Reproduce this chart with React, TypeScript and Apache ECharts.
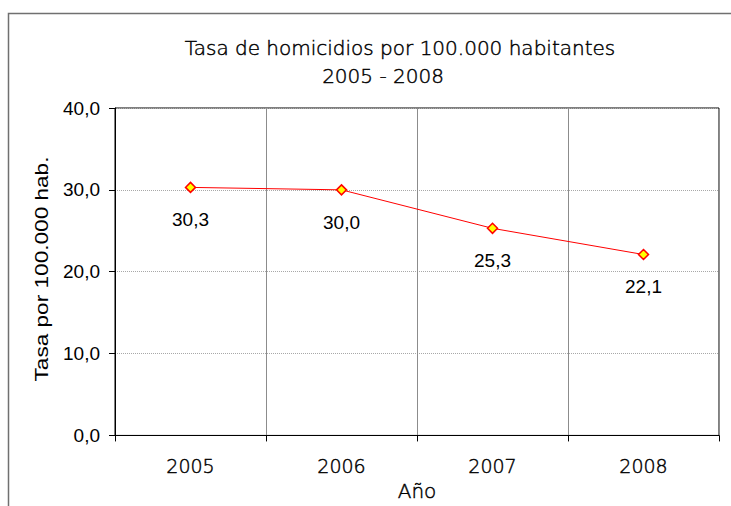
import React, { useEffect, useRef } from "react";
import * as echarts from "echarts";

const years = ["2005", "2006", "2007", "2008"];
const rates = [30.3, 30.0, 25.3, 22.1];
const titleLine1 = "Tasa de homicidios por 100.000 habitantes";
const titleLine2 = "2005 - 2008";
const yAxisName = "Tasa por 100.000 hab.";
const xAxisName = "Año";

const fmt = (v: number) => v.toFixed(1).replace(".", ",");

export default function App() {
  const ref = useRef<HTMLDivElement>(null);
  useEffect(() => {
    if (!ref.current) return;
    const chart = echarts.init(ref.current, undefined, { renderer: "svg" });
    const font = "'Liberation Sans', Arial, sans-serif";
    const thin = "'DejaVu Sans', sans-serif";
    const thinStyle = {
      fontFamily: thin,
      fontWeight: 200,
      color: "#000",
      textBorderColor: "#000",
      textBorderWidth: 0.45,
    };
    chart.setOption({
      animation: false,
      backgroundColor: "#ffffff",
      title: [
        {
          text: titleLine1,
          left: 395,
          top: 33,
          textAlign: "center",
          textStyle: { ...thinStyle, fontSize: 20 },
        },
        {
          text: titleLine2,
          left: 378,
          top: 61,
          textAlign: "center",
          textStyle: { ...thinStyle, fontSize: 20 },
        },
      ],
      graphic: [
        {
          type: "rect",
          shape: { x: 8.5, y: 13.5, width: 800, height: 600 },
          style: { fill: "none", stroke: "#707070", lineWidth: 1.5 },
          silent: true,
        },
        {
          type: "text",
          x: 41,
          y: 269,
          rotation: Math.PI / 2,
          scaleX: 1.19,
          silent: true,
          style: {
            text: yAxisName,
            fontFamily: font,
            fontSize: 19,
            fill: "#000",
            align: "center",
            verticalAlign: "middle",
          },
        },
      ],
      grid: {
        left: 115,
        top: 108,
        width: 604,
        height: 334,
        show: true,
        borderColor: "#000",
        borderWidth: 1,
        backgroundColor: "transparent",
      },
      xAxis: {
        type: "category",
        data: years,
        boundaryGap: true,
        name: xAxisName,
        nameLocation: "middle",
        nameGap: 45,
        nameTextStyle: { ...thinStyle, fontSize: 20 },
        axisLine: { lineStyle: { color: "#000", width: 1 } },
        axisTick: { show: true, length: 6, lineStyle: { color: "#000" } },
        axisLabel: { ...thinStyle, fontSize: 19, margin: 21 },
        splitLine: { show: true, lineStyle: { color: "#8c8c8c", width: 1, type: "solid" } },
      },
      yAxis: {
        type: "value",
        min: 0,
        max: 40,
        interval: 10,
        axisLine: { show: true, lineStyle: { color: "#000", width: 1 } },
        axisTick: { show: true, length: 6, lineStyle: { color: "#000" } },
        axisLabel: {
          fontFamily: font,
          fontSize: 19,
          color: "#000",
          margin: 15,
          formatter: (v: number) => fmt(v),
        },
        splitLine: { show: true, lineStyle: { color: "#a8a8a8", width: 1, type: "dotted" } },
      },
      series: [
        {
          type: "line",
          data: rates,
          symbol: "diamond",
          symbolSize: 10,
          lineStyle: { color: "#ff0000", width: 1 },
          itemStyle: { color: "#ffff00", borderColor: "#ff0000", borderWidth: 1.5 },
          label: {
            show: true,
            position: "bottom",
            distance: 17,
            fontFamily: font,
            fontSize: 19,
            color: "#000",
            formatter: (p: any) => fmt(p.value),
          },
        },
      ],
    });
    return () => chart.dispose();
  }, []);
  return (
    <div
      ref={ref}
      style={{ position: "absolute", left: 0, top: 0, width: 731, height: 506 }}
    />
  );
}
